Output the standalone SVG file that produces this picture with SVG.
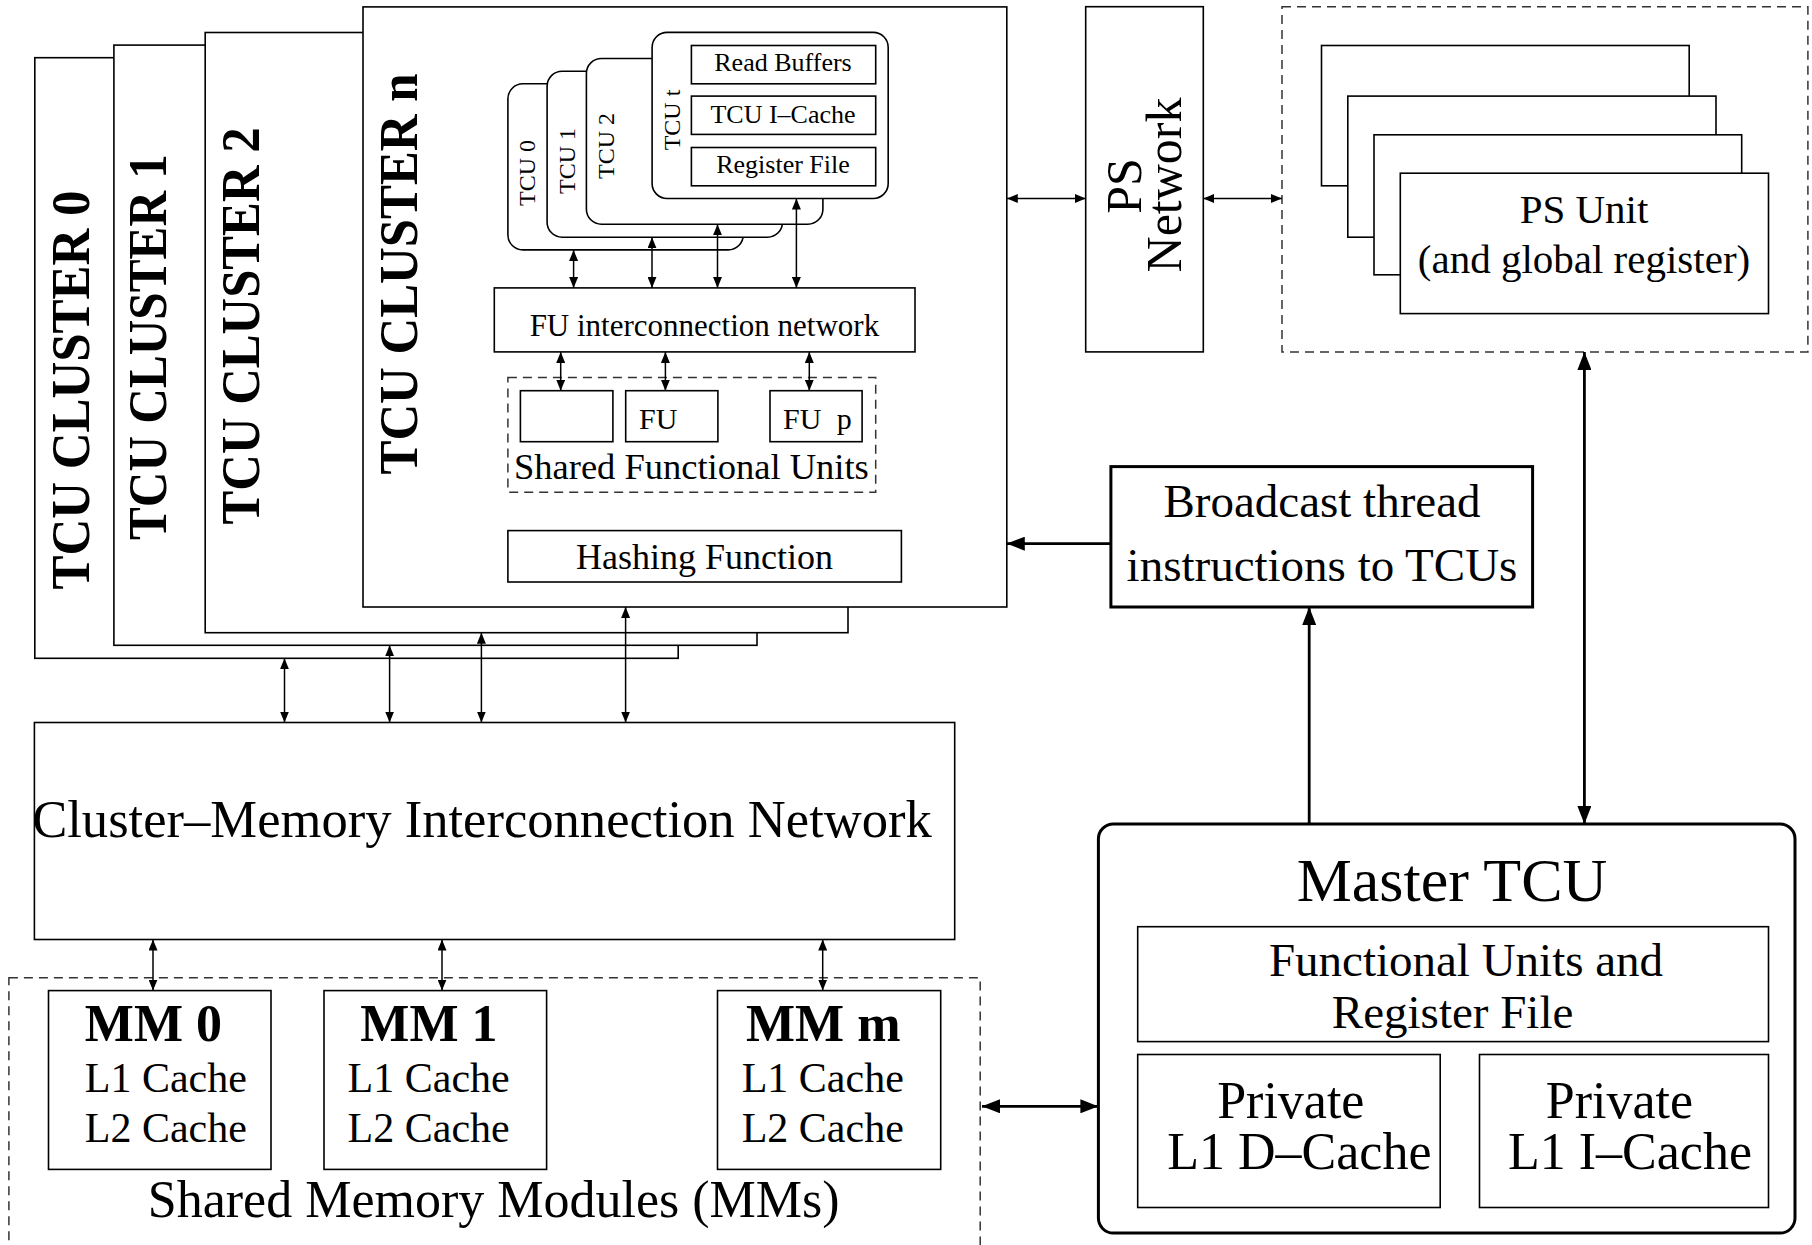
<svg xmlns="http://www.w3.org/2000/svg" width="1812" height="1245" viewBox="0 0 1812 1245">
<style>
text{font-family:"Liberation Serif","Times New Roman",serif;fill:#000}
.b{fill:#fff;stroke:#000;stroke-width:1.6}
.bt{fill:#fff;stroke:#000;stroke-width:3}
.d{fill:none;stroke:#333;stroke-width:1.5;stroke-dasharray:9 6}
.c{stroke:#000;stroke-width:1.5;fill:none;marker-start:url(#a);marker-end:url(#a)}
.c1{stroke:#000;stroke-width:1.5;fill:none;marker-end:url(#a)}
.C{stroke:#000;stroke-width:2.8;fill:none;marker-end:url(#A)}
.C2{stroke:#000;stroke-width:2.8;fill:none;marker-start:url(#A);marker-end:url(#A)}
.cl{font-weight:bold;font-size:54px}
.m{text-anchor:middle}
</style>
<defs>
<marker id="a" markerUnits="userSpaceOnUse" markerWidth="11" markerHeight="9" refX="11" refY="4.5" orient="auto-start-reverse"><path d="M0,0 L11,4.5 L0,9 z" fill="#000"/></marker>
<marker id="A" markerUnits="userSpaceOnUse" markerWidth="18" markerHeight="14" refX="18" refY="7" orient="auto-start-reverse"><path d="M0,0 L18,7 L0,14 z" fill="#000"/></marker>
</defs>
<rect width="1812" height="1245" fill="#fff"/>

<g id="cluster0"><rect class="b" x="34.8" y="57.7" width="643.4" height="600.6"/>
<text class="cl m" transform="translate(89,390) rotate(-90)" textLength="399" lengthAdjust="spacingAndGlyphs">TCU CLUSTER 0</text></g>
<g id="cluster1"><rect class="b" x="113.9" y="45.1" width="643.1" height="600.2"/>
<text class="cl m" transform="translate(166,347) rotate(-90)" textLength="386" lengthAdjust="spacingAndGlyphs">TCU CLUSTER 1</text></g>
<g id="cluster2"><rect class="b" x="205.2" y="32.5" width="642.8" height="600.2"/>
<text class="cl m" transform="translate(259,326) rotate(-90)" textLength="397" lengthAdjust="spacingAndGlyphs">TCU CLUSTER 2</text></g>
<g id="clustern"><rect class="b" x="363" y="6.9" width="643.8" height="600.1"/>
<text class="cl m" transform="translate(417,274) rotate(-90)" textLength="401" lengthAdjust="spacingAndGlyphs">TCU CLUSTER n</text></g>

<g id="tcu0"><rect class="b" x="507.9" y="83.8" width="235.3" height="166.1" rx="15"/>
<text class="m" font-size="24" transform="translate(535,173) rotate(-90)">TCU 0</text></g>
<g id="tcu1"><rect class="b" x="547.1" y="71.2" width="235.4" height="166" rx="15"/>
<text class="m" font-size="24" transform="translate(574.5,161) rotate(-90)">TCU 1</text></g>
<g id="tcu2"><rect class="b" x="586.4" y="58.5" width="236.5" height="165.7" rx="15"/>
<text class="m" font-size="24" transform="translate(613.5,146) rotate(-90)">TCU 2</text></g>
<g id="tcut"><rect class="b" x="652.1" y="32.4" width="236.1" height="166.1" rx="15"/>
<text class="m" font-size="24" transform="translate(680,120) rotate(-90)">TCU t</text></g>
<g id="readbuf"><rect class="b" x="691.4" y="45.5" width="184.3" height="38.3"/>
<text class="m" font-size="26" x="783" y="71.2">Read Buffers</text></g>
<g id="icache"><rect class="b" x="691.4" y="96.1" width="184.3" height="38.3"/>
<text class="m" font-size="26" x="783" y="122.6">TCU I–Cache</text></g>
<g id="regfile"><rect class="b" x="691.4" y="147.5" width="184.3" height="38.3"/>
<text class="m" font-size="26" x="783" y="173.2">Register File</text></g>

<g id="funet"><rect class="b" x="494.3" y="287.9" width="420.7" height="64"/>
<text class="m" font-size="31" x="704.4" y="336">FU interconnection network</text></g>
<g id="sharedfu"><rect class="d" x="507.9" y="377.6" width="367.8" height="114.7"/>
<text font-size="36.5" x="514" y="478.5">Shared Functional Units</text></g>
<g id="fu0"><rect class="b" x="520.4" y="390.7" width="92.5" height="51"/></g>
<g id="fu1"><rect class="b" x="625.7" y="390.7" width="92.2" height="51"/>
<text font-size="30" x="639" y="429">FU</text></g>
<g id="fup"><rect class="b" x="770" y="390.7" width="92.1" height="51"/>
<text font-size="30" x="783" y="429" style="word-spacing:8px">FU p</text></g>
<g id="hash"><rect class="b" x="507.9" y="530.6" width="393.5" height="51.4"/>
<text class="m" font-size="36" x="704.6" y="569.4">Hashing Function</text></g>

<g id="psnet"><rect class="b" x="1085.7" y="6.7" width="117.6" height="345.2"/>
<text class="m" font-size="50" transform="translate(1141,186) rotate(-90)">PS</text>
<text class="m" font-size="50" transform="translate(1181,185) rotate(-90)">Network</text></g>
<g id="psunits"><rect class="d" x="1282" y="6.7" width="525.9" height="345.2"/>
<rect class="b" x="1321.5" y="45.5" width="367.7" height="140.3"/>
<rect class="b" x="1347.8" y="96.1" width="368.2" height="141.1"/>
<rect class="b" x="1374" y="134.8" width="367.7" height="140"/>
<rect class="b" x="1400.3" y="173.2" width="368.2" height="140.4"/>
<text class="m" font-size="41" x="1584" y="223.4">PS Unit</text>
<text class="m" font-size="41" x="1584" y="272.8">(and global register)</text></g>

<g id="broadcast"><rect class="bt" x="1110.9" y="466.6" width="421.7" height="140.4"/>
<text class="m" font-size="47" x="1322" y="517">Broadcast thread</text>
<text class="m" font-size="47" x="1322" y="581">instructions to TCUs</text></g>

<g id="cmin"><rect class="b" x="34.4" y="722.5" width="920.3" height="217"/>
<text class="m" font-size="52.6" x="482" y="836.8">Cluster–Memory Interconnection Network</text></g>

<g id="mms"><rect class="d" x="8.9" y="977.7" width="971.3" height="300"/>
<text class="m" font-size="52" x="493.7" y="1217">Shared Memory Modules (MMs)</text></g>
<g id="mm0"><rect class="b" x="48.5" y="990.6" width="222.5" height="178.8"/>
<text font-size="52" font-weight="bold" x="84.8" y="1041.4">MM 0</text>
<text font-size="42" x="84.8" y="1091.9">L1 Cache</text>
<text font-size="42" x="84.8" y="1142.3">L2 Cache</text></g>
<g id="mm1"><rect class="b" x="324" y="990.6" width="222.6" height="178.8"/>
<text font-size="52" font-weight="bold" x="360.3" y="1041.4">MM 1</text>
<text font-size="42" x="347.6" y="1091.9">L1 Cache</text>
<text font-size="42" x="347.6" y="1142.3">L2 Cache</text></g>
<g id="mmm"><rect class="b" x="717.5" y="990.6" width="223.2" height="178.8"/>
<text font-size="52" font-weight="bold" x="746" y="1041.4">MM m</text>
<text font-size="42" x="741.7" y="1091.9">L1 Cache</text>
<text font-size="42" x="741.7" y="1142.3">L2 Cache</text></g>

<g id="master"><rect class="bt" x="1098.4" y="824" width="696.6" height="409.1" rx="15"/>
<text class="m" font-size="62" x="1452" y="900.5">Master TCU</text>
<rect class="b" x="1137.7" y="926.7" width="630.8" height="114.9"/>
<text class="m" font-size="47" x="1466" y="976.4">Functional Units and</text>
<text class="m" font-size="47" x="1452.6" y="1027.8">Register File</text>
<rect class="b" x="1137.7" y="1054.5" width="302.5" height="153"/>
<text class="m" font-size="52" x="1290.8" y="1117.6">Private</text>
<text class="m" font-size="52" x="1299.4" y="1169">L1 D–Cache</text>
<rect class="b" x="1479.5" y="1054.5" width="289" height="153"/>
<text class="m" font-size="52" x="1619.4" y="1117.6">Private</text>
<text class="m" font-size="52" x="1630" y="1169">L1 I–Cache</text></g>

<g id="connectors">
<line class="c" x1="573.6" y1="250" x2="573.6" y2="287.9"/>
<line class="c" x1="652" y1="237.2" x2="652" y2="287.9"/>
<line class="c" x1="717.5" y1="224.2" x2="717.5" y2="287.9"/>
<line class="c" x1="796.4" y1="198.5" x2="796.4" y2="287.9"/>
<line class="c" x1="560.7" y1="351.9" x2="560.7" y2="390.7"/>
<line class="c" x1="665.4" y1="351.9" x2="665.4" y2="390.7"/>
<line class="c" x1="809.3" y1="351.9" x2="809.3" y2="390.7"/>
<line class="c" x1="1006.8" y1="198.5" x2="1085.7" y2="198.5"/>
<line class="c" x1="1203.3" y1="198.5" x2="1282" y2="198.5"/>
<line class="C" x1="1110.9" y1="543.7" x2="1006.8" y2="543.7"/>
<line class="C" x1="1309.2" y1="824" x2="1309.2" y2="607"/>
<line class="C2" x1="1584.4" y1="351.9" x2="1584.4" y2="824"/>
<line class="C2" x1="982" y1="1106.3" x2="1098.4" y2="1106.3"/>
<line class="c" x1="284.5" y1="658.3" x2="284.5" y2="722.5"/>
<line class="c" x1="389.6" y1="645.3" x2="389.6" y2="722.5"/>
<line class="c" x1="481.4" y1="632.7" x2="481.4" y2="722.5"/>
<line class="c" x1="625.6" y1="607" x2="625.6" y2="722.5"/>
<line class="c" x1="153" y1="939.5" x2="153" y2="990.6"/>
<line class="c" x1="442" y1="939.5" x2="442" y2="990.6"/>
<line class="c" x1="822.7" y1="939.5" x2="822.7" y2="990.6"/>
</g>
</svg>
